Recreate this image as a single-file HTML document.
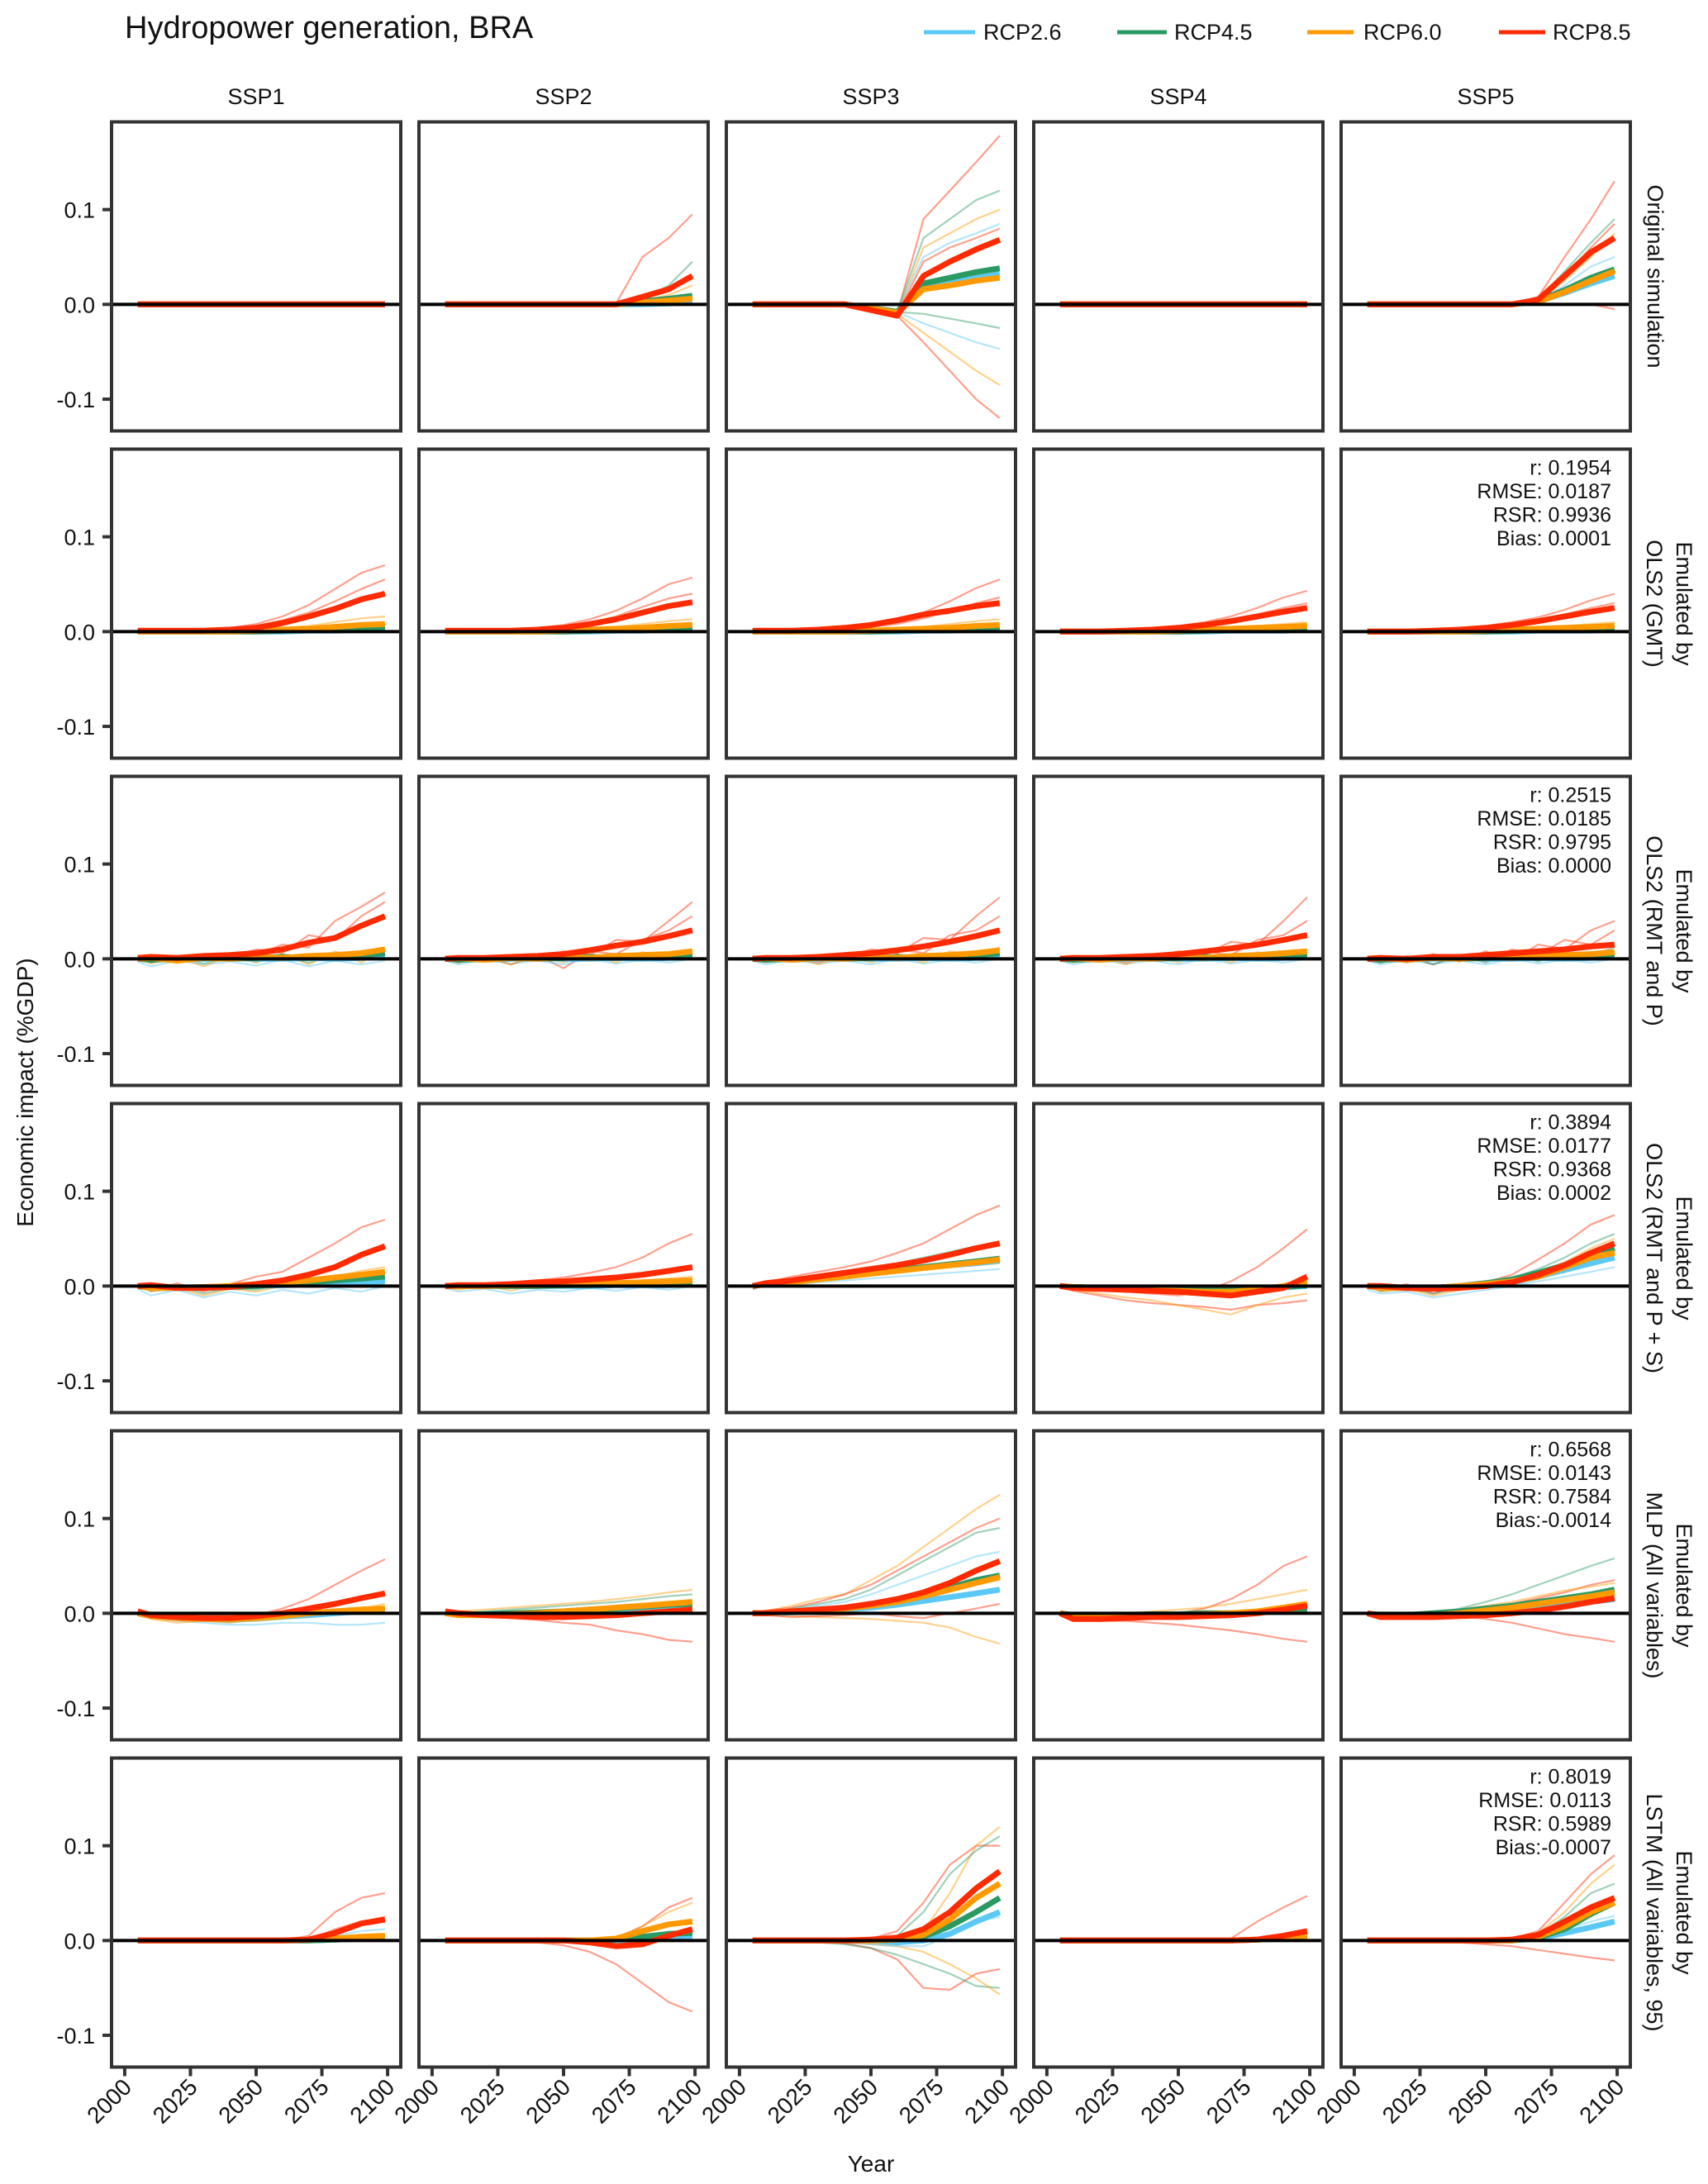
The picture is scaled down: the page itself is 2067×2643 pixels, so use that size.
<!DOCTYPE html>
<html><head><meta charset="utf-8"><style>
body{margin:0;background:#fff}
svg{display:block}
text{font-family:"Liberation Sans",Arial,sans-serif;fill:#111}
</style></head><body>
<svg id="chart" width="2067" height="2643" viewBox="0 0 2067 2643" xmlns="http://www.w3.org/2000/svg">
<text x="151" y="46" font-size="38">Hydropower generation, BRA</text>
<g font-size="27">
 <g><line x1="1118" y1="39" x2="1180" y2="39" stroke="#5bc8f5" stroke-width="5"/><text x="1190" y="48">RCP2.6</text></g>
 <g><line x1="1352" y1="39" x2="1412" y2="39" stroke="#2a9a63" stroke-width="5"/><text x="1421" y="48">RCP4.5</text></g>
 <g><line x1="1582" y1="39" x2="1638" y2="39" stroke="#ff9900" stroke-width="5"/><text x="1650" y="48">RCP6.0</text></g>
 <g><line x1="1814" y1="39" x2="1870" y2="39" stroke="#ff2a00" stroke-width="5"/><text x="1879" y="48">RCP8.5</text></g>
</g>
<text transform="translate(40,1322) rotate(-90)" text-anchor="middle" font-size="28">Economic impact (%GDP)</text>
<text x="1054" y="2628" text-anchor="middle" font-size="28">Year</text>
<g id="panels"></g>
</svg>
<script>
const years = [2005,2010,2020,2030,2040,2050,2060,2070,2080,2090,2099];
const rcpNames = ["RCP2.6","RCP4.5","RCP6.0","RCP8.5"];
const colLabels = ["SSP1","SSP2","SSP3","SSP4","SSP5"];
const rowLabels = [["Original simulation"],["Emulated by","OLS2 (GMT)"],["Emulated by","OLS2 (RMT and P)"],["Emulated by","OLS2 (RMT and P + S)"],["Emulated by","MLP (All variables)"],["Emulated by","LSTM (All variables, 95)"]];
const yTicks = [-0.1,0,0.1];
const yTickLabels = ["-0.1","0.0","0.1"];
const xTicks = [2000,2025,2050,2075,2100];
const statR = ["0.1954","0.2515","0.3894","0.6568","0.8019"];
const statRMSE = ["0.0187","0.0185","0.0177","0.0143","0.0113"];
const statRSR = ["0.9936","0.9795","0.9368","0.7584","0.5989"];
const statBias = [" 0.0001"," 0.0000"," 0.0002","-0.0014","-0.0007"];

const Z=[0,0,0,0,0,0,0,0,0,0,0];
const mean00=[Z,Z,Z,Z];
const mean01=[[0,0,0,0,0,0,0,0,0,0.001,0.002],[0,0,0,0,0,0,0,0,0.003,0.006,0.009],[0,0,0,0,0,0,0,0,0.002,0.004,0.006],[0,0,0,0,0,0,0,0,0.008,0.016,0.03]];
const mean02=[[0,0,0,0,0,-0.004,-0.008,0.02,0.024,0.028,0.032],[0,0,0,0,0,-0.004,-0.008,0.022,0.028,0.034,0.038],[0,0,0,0,0,-0.004,-0.009,0.016,0.02,0.025,0.028],[0,0,0,0,0,-0.006,-0.012,0.03,0.045,0.058,0.068]];
const mean03=[Z,Z,Z,Z];
const mean04=[[0,0,0,0,0,0,0,0.003,0.012,0.022,0.03],[0,0,0,0,0,0,0,0.004,0.015,0.028,0.037],[0,0,0,0,0,0,0,0.003,0.013,0.025,0.035],[0,0,0,0,0,0,0,0.005,0.03,0.055,0.07]];
const mean10=[[0,0,0,0,0,0,0,0.001,0.001,0.002,0.002],[0,0,0,0,0,0,0.001,0.002,0.003,0.004,0.005],[0,0,0,0,0,0.001,0.002,0.003,0.005,0.007,0.008],[0.001,0.001,0.001,0.001,0.002,0.004,0.009,0.016,0.024,0.034,0.04]];
const mean11=[[0,0,0,0,0,0,0,0.001,0.001,0.002,0.002],[0,0,0,0,0,0,0.001,0.002,0.003,0.004,0.005],[0,0,0,0,0,0.001,0.002,0.003,0.004,0.006,0.007],[0.001,0.001,0.001,0.001,0.002,0.004,0.008,0.013,0.02,0.027,0.031]];
const mean12=[[0,0,0,0,0,0,0,0.001,0.001,0.002,0.002],[0,0,0,0,0,0,0.001,0.002,0.003,0.004,0.005],[0,0,0,0,0,0.001,0.002,0.003,0.004,0.006,0.007],[0.001,0.001,0.001,0.002,0.004,0.007,0.012,0.018,0.022,0.027,0.03]];
const mean13=[[0,0,0,0,0,0,0,0.001,0.001,0.001,0.002],[0,0,0,0,0,0,0.001,0.002,0.002,0.003,0.004],[0,0,0,0,0,0.001,0.002,0.003,0.004,0.005,0.006],[0,0,0,0.001,0.002,0.004,0.007,0.011,0.016,0.021,0.025]];
const mean14=[[0,0,0,0,0,0,0,0.001,0.001,0.001,0.002],[0,0,0,0,0,0,0.001,0.002,0.002,0.003,0.004],[0,0,0,0,0,0.001,0.002,0.003,0.004,0.005,0.006],[0,0,0,0.001,0.002,0.004,0.007,0.011,0.016,0.021,0.025]];
const mean20=[[0,0,-0.001,0,0.001,0,0,0.001,0,0.001,0.002],[0,-0.001,0,0.001,0,0.001,0.002,0.001,0.003,0.004,0.006],[0,0.001,-0.002,0.001,0,0.002,0.001,0.003,0.004,0.006,0.01],[0.001,0.002,0.001,0.003,0.004,0.006,0.01,0.017,0.022,0.035,0.045]];
const mean21=[[0,0,-0.001,0,0.001,0,0,0.001,0,0.001,0.002],[0,-0.001,0,0.001,0,0.001,0.002,0.001,0.003,0.004,0.005],[0,0.001,-0.001,0.001,0,0.002,0.001,0.003,0.004,0.005,0.008],[0,0.001,0.001,0.002,0.003,0.005,0.009,0.014,0.018,0.024,0.03]];
const mean22=[[0,0,-0.001,0,0.001,0,0,0.001,0,0.001,0.002],[0,-0.001,0,0.001,0,0.001,0.002,0.001,0.003,0.004,0.006],[0,0.001,-0.001,0.001,0,0.002,0.001,0.003,0.004,0.006,0.009],[0,0.001,0.001,0.002,0.004,0.006,0.009,0.013,0.018,0.024,0.03]];
const mean23=[[0,0,-0.001,0,0.001,0,0,0.001,0,0.001,0.002],[0,-0.001,0,0.001,0,0.001,0.002,0.001,0.003,0.004,0.005],[0,0.001,-0.001,0.001,0,0.002,0.001,0.003,0.004,0.006,0.008],[0,0.001,0.001,0.002,0.003,0.005,0.008,0.011,0.015,0.02,0.025]];
const mean24=[[0,0,-0.001,0,0.001,0,0,0.001,0,0.001,0.002],[0,-0.001,0,0.001,0,0.001,0.002,0.001,0.003,0.004,0.005],[0,0.001,-0.001,0.001,0,0.002,0.001,0.003,0.004,0.005,0.007],[0,0.001,0,0.002,0.002,0.004,0.006,0.008,0.01,0.013,0.015]];
const mean30=[[0,-0.002,-0.002,-0.001,-0.001,0,0.001,0.002,0.003,0.004,0.005],[0,-0.002,-0.002,-0.002,-0.001,0,0.002,0.004,0.006,0.008,0.01],[0,-0.002,-0.002,-0.001,0,0.002,0.004,0.006,0.009,0.012,0.015],[0,0.001,-0.002,-0.002,-0.001,0.002,0.006,0.012,0.02,0.033,0.042]];
const mean31=[[0,0,0,0,0,0,0,0.001,0.001,0.001,0.002],[0,0,0,0,0,0.001,0.001,0.002,0.002,0.003,0.004],[0,0,0,0.001,0.001,0.002,0.002,0.003,0.004,0.005,0.006],[0,0.001,0.001,0.002,0.004,0.005,0.007,0.009,0.012,0.016,0.02]];
const mean32=[[0,0.002,0.005,0.008,0.011,0.014,0.017,0.02,0.022,0.024,0.027],[0,0.002,0.005,0.008,0.011,0.014,0.017,0.02,0.023,0.026,0.029],[0,0.002,0.004,0.007,0.01,0.013,0.016,0.019,0.022,0.025,0.028],[0,0.003,0.006,0.01,0.014,0.018,0.022,0.027,0.033,0.04,0.045]];
const mean33=[[0,-0.001,-0.002,-0.002,-0.003,-0.003,-0.003,-0.003,-0.002,-0.001,0],[0,-0.001,-0.002,-0.003,-0.003,-0.004,-0.004,-0.004,-0.003,-0.001,0.001],[0,-0.001,-0.002,-0.003,-0.004,-0.005,-0.006,-0.006,-0.004,0,0.005],[0,-0.002,-0.003,-0.004,-0.005,-0.006,-0.008,-0.01,-0.006,-0.002,0.01]];
const mean34=[[0,-0.002,-0.002,-0.002,-0.001,0.001,0.004,0.01,0.017,0.024,0.03],[0,-0.002,-0.002,-0.002,0,0.003,0.007,0.014,0.022,0.032,0.04],[0,-0.002,-0.002,-0.002,0,0.002,0.005,0.01,0.02,0.03,0.035],[0,0,-0.002,-0.003,-0.002,0,0.004,0.012,0.022,0.035,0.045]];
const mean40=[[0,-0.003,-0.004,-0.005,-0.005,-0.004,-0.003,-0.002,0,0.002,0.003],[0,-0.003,-0.004,-0.005,-0.005,-0.004,-0.002,0,0.002,0.003,0.004],[0,-0.003,-0.005,-0.006,-0.006,-0.005,-0.003,0,0.002,0.004,0.005],[0.002,-0.002,-0.004,-0.005,-0.005,-0.003,0,0.005,0.01,0.016,0.021]];
const mean41=[[0,-0.001,-0.001,-0.001,0,0.001,0.002,0.003,0.004,0.004,0.005],[0,-0.001,-0.001,0,0.001,0.002,0.004,0.005,0.007,0.009,0.01],[0,-0.002,-0.002,-0.001,0,0.002,0.004,0.006,0.008,0.01,0.012],[0.002,0,-0.002,-0.003,-0.004,-0.004,-0.003,-0.002,0,0.002,0.004]];
const mean42=[[0,0,0.001,0.002,0.004,0.006,0.009,0.013,0.017,0.021,0.025],[0,0,0.002,0.003,0.005,0.009,0.014,0.02,0.027,0.035,0.04],[0,0,0.002,0.003,0.005,0.008,0.012,0.018,0.025,0.032,0.038],[0,0,0.002,0.004,0.006,0.01,0.015,0.022,0.032,0.045,0.055]];
const mean43=[[0,-0.002,-0.002,-0.002,-0.002,-0.001,-0.001,0,0.001,0.002,0.002],[0,-0.002,-0.002,-0.002,-0.001,-0.001,0,0,0.001,0.002,0.003],[0,-0.003,-0.003,-0.002,-0.002,-0.002,-0.001,0,0.002,0.006,0.01],[0,-0.006,-0.006,-0.005,-0.004,-0.004,-0.003,-0.002,0,0.004,0.008]];
const mean44=[[0,-0.002,-0.002,-0.001,0,0.002,0.004,0.006,0.009,0.012,0.015],[0,-0.002,-0.002,0,0.002,0.005,0.008,0.012,0.016,0.02,0.025],[0,-0.003,-0.003,-0.002,0,0.003,0.006,0.01,0.014,0.018,0.022],[0,-0.004,-0.004,-0.004,-0.003,-0.002,0,0.003,0.007,0.012,0.016]];
const mean50=[[0,0,0,0,0,0,0,0,0.001,0.002,0.003],[0,0,0,0,0,0,0,0,0.001,0.002,0.002],[0,0,0,0,0,0,0,0.001,0.002,0.004,0.005],[0,0,0,0,0,0,0,0.001,0.008,0.018,0.022]];
const mean51=[[0,0,0,0,0,0,0,0,0.002,0.004,0.005],[0,0,0,0,0,0,0,0.001,0.004,0.007,0.008],[0,0,0,0,0,0,0,0.002,0.01,0.017,0.02],[0,0,0,0,0,0,-0.002,-0.006,-0.004,0.005,0.012]];
const mean52=[[0,0,0,0,0,0,-0.002,0,0.007,0.02,0.03],[0,0,0,0,0,0,0.001,0.004,0.015,0.03,0.045],[0,0,0,0,0,0,0.001,0.006,0.022,0.045,0.06],[0,0,0,0,0,0.001,0.003,0.012,0.03,0.055,0.073]];
const mean53=[[0,0,0,0,0,0,0,0,0.001,0.002,0.002],[0,0,0,0,0,0,0,0,0.001,0.002,0.002],[0,0,0,0,0,0,0,0,0.001,0.002,0.003],[0,0,0,0,0,0,0,0,0.001,0.005,0.01]];
const mean54=[[0,0,0,0,0,0,0,0.002,0.008,0.014,0.02],[0,0,0,0,0,0,0,0.003,0.012,0.028,0.04],[0,0,0,0,0,0,0,0.004,0.015,0.03,0.04],[0,0,0,0,0,0,0.001,0.006,0.02,0.035,0.045]];

const thin00=[];
const thin01=[[3,0,0,0,0,0,0,0,0.001,0.05,0.07,0.095],[1,0,0,0,0,0,0,0,0,0.005,0.02,0.045],[2,0,0,0,0,0,0,0,0,0.004,0.01,0.02]];
const thin02=[[3,0,0,0,0,0,-0.003,-0.01,0.09,0.12,0.15,0.178],[1,0,0,0,0,0,-0.003,-0.008,0.07,0.09,0.11,0.12],[2,0,0,0,0,0,-0.004,-0.01,0.06,0.075,0.09,0.1],[0,0,0,0,0,0,-0.002,-0.006,0.05,0.065,0.075,0.085],[3,0,0,0,0,0,-0.003,-0.01,0.045,0.06,0.07,0.08],[2,0,0,0,0,0,-0.004,-0.01,-0.03,-0.05,-0.07,-0.085],[3,0,0,0,0,0,-0.004,-0.012,-0.04,-0.07,-0.1,-0.12],[0,0,0,0,0,0,-0.002,-0.008,-0.02,-0.03,-0.04,-0.047],[1,0,0,0,0,0,-0.003,-0.008,-0.01,-0.015,-0.02,-0.025]];
const thin03=[];
const thin04=[[3,0,0,0,0,0,0,0,0.008,0.05,0.09,0.13,0.137],[1,0,0,0,0,0,0,0,0.005,0.035,0.065,0.09,0.095],[3,0,0,0,0,0,0,0,0.005,0.03,0.06,0.085,0.09],[2,0,0,0,0,0,0,0,0.003,0.025,0.05,0.075,0.08],[0,0,0,0,0,0,0,0,0.003,0.02,0.04,0.05,0.052],[3,0,0,0,0,0,0,0,0,0,0,-0.005,-0.012]];
const thin10=[[3,0.001,0.001,0.001,0.002,0.004,0.008,0.016,0.028,0.045,0.062,0.07],[3,0.001,0.001,0.001,0.002,0.003,0.006,0.012,0.02,0.032,0.045,0.055],[2,0,0,0,0,0.001,0.002,0.004,0.006,0.01,0.014,0.016]];
const thin11=[[3,0.001,0.001,0.001,0.002,0.004,0.007,0.013,0.022,0.035,0.05,0.057],[3,0.001,0.001,0.001,0.002,0.003,0.005,0.009,0.016,0.026,0.035,0.04],[2,0,0,0,0,0.001,0.002,0.003,0.005,0.008,0.011,0.013]];
const thin12=[[3,0.001,0.001,0.001,0.002,0.004,0.007,0.012,0.02,0.032,0.046,0.055],[3,0.001,0.001,0.001,0.002,0.003,0.005,0.008,0.014,0.022,0.03,0.036],[2,0,0,0,0,0.001,0.002,0.003,0.005,0.008,0.011,0.013]];
const thin13=[[3,0,0,0.001,0.002,0.003,0.006,0.01,0.016,0.025,0.036,0.043],[3,0,0,0.001,0.001,0.003,0.005,0.008,0.012,0.018,0.025,0.03],[2,0,0,0,0,0.001,0.002,0.003,0.004,0.006,0.008,0.01]];
const thin14=[[3,0,0,0.001,0.002,0.003,0.006,0.01,0.015,0.023,0.033,0.04],[3,0,0,0.001,0.001,0.003,0.005,0.008,0.012,0.018,0.025,0.03],[2,0,0,0,0,0.001,0.002,0.003,0.004,0.006,0.008,0.01]];
const thin20=[[3,0.002,0,0.003,0.001,0.006,0.004,0.015,0.012,0.04,0.055,0.07],[3,0,0.003,0,0.005,0.002,0.01,0.006,0.025,0.02,0.045,0.06],[0,-0.003,-0.008,-0.002,-0.006,-0.003,-0.007,-0.001,-0.008,-0.002,-0.006,-0.002],[2,0,-0.005,0.002,-0.008,0.003,-0.004,0.005,-0.006,0.008,-0.004,0.012],[1,0.001,-0.004,0.002,-0.005,0.002,-0.003,0.003,-0.004,0.004,0.001,0.006]];
const thin21=[[3,0,0.002,-0.002,0.004,0.001,0.008,0.004,0.02,0.018,0.04,0.06],[3,0,-0.004,0.002,-0.006,0.004,-0.01,0.008,0.005,0.02,0.03,0.045],[0,-0.002,-0.006,-0.001,-0.005,-0.002,-0.006,0,-0.005,-0.001,-0.004,0],[2,0,-0.004,0.002,-0.006,0.003,-0.004,0.005,-0.004,0.007,0.002,0.01]];
const thin22=[[3,0,0.002,-0.001,0.004,0.002,0.01,0.006,0.022,0.02,0.045,0.065],[3,0,-0.003,0.002,-0.004,0.004,0.001,0.01,0.006,0.025,0.03,0.045],[0,-0.002,-0.006,-0.001,-0.005,-0.002,-0.006,0,-0.005,-0.001,-0.004,0],[2,0,-0.004,0.002,-0.006,0.003,-0.004,0.005,-0.004,0.008,0.004,0.012]];
const thin23=[[3,0,0.002,-0.001,0.003,0.002,0.008,0.005,0.018,0.015,0.04,0.065],[3,0,-0.003,0.002,-0.004,0.003,0.002,0.008,0.004,0.02,0.025,0.04],[0,-0.002,-0.006,-0.001,-0.005,-0.002,-0.006,0,-0.005,-0.001,-0.004,0],[2,0,-0.004,0.002,-0.006,0.003,-0.004,0.005,-0.004,0.007,0.003,0.01]];
const thin24=[[3,0,0.003,-0.004,0.005,-0.003,0.008,-0.002,0.015,0.01,0.03,0.04],[3,0,-0.004,0.003,-0.006,0.004,-0.003,0.01,0.004,0.02,0.015,0.03],[0,-0.002,-0.006,-0.001,-0.005,-0.002,-0.006,0,-0.005,-0.001,-0.004,0],[1,0,-0.004,0.002,-0.006,0.003,-0.004,0.005,-0.003,0.008,0.004,0.012]];
const thin30=[[3,0.002,-0.004,0.003,-0.006,0.002,0.01,0.015,0.03,0.045,0.062,0.07],[0,-0.003,-0.01,-0.004,-0.012,-0.006,-0.01,-0.004,-0.008,-0.002,-0.006,0],[2,0,-0.006,-0.002,-0.01,-0.003,-0.006,0,0.004,0.01,0.016,0.02],[1,0,-0.005,0,-0.008,-0.002,-0.004,0.002,0.004,0.008,0.012,0.016]];
const thin31=[[3,0.001,0.002,0.002,0.004,0.006,0.009,0.014,0.02,0.03,0.045,0.055],[0,-0.002,-0.006,-0.003,-0.008,-0.004,-0.006,-0.002,-0.005,-0.001,-0.004,0],[2,0,-0.004,0.001,-0.005,0.002,-0.002,0.004,0.002,0.006,0.008,0.01]];
const thin32=[[3,0.002,0.004,0.01,0.015,0.02,0.026,0.035,0.045,0.06,0.075,0.085],[0,-0.004,0.002,0.001,0.004,0.006,0.008,0.01,0.012,0.014,0.016,0.018],[1,0.002,0.004,0.008,0.012,0.016,0.02,0.024,0.03,0.036,0.042,0.045],[2,0,0.001,0.004,0.006,0.009,0.012,0.015,0.018,0.02,0.022,0.024]];
const thin33=[[3,0,0,-0.004,-0.006,-0.008,-0.01,-0.005,0.005,0.02,0.04,0.06],[3,0,-0.005,-0.01,-0.015,-0.018,-0.02,-0.022,-0.025,-0.02,-0.018,-0.015],[2,0,-0.004,-0.008,-0.012,-0.015,-0.02,-0.025,-0.03,-0.02,-0.012,-0.008],[0,0,-0.003,-0.004,-0.006,-0.006,-0.008,-0.01,-0.008,-0.006,-0.004,-0.002]];
const thin34=[[3,0.002,-0.004,0.002,-0.008,0,0.004,0.012,0.028,0.045,0.065,0.075],[0,-0.004,-0.008,-0.006,-0.012,-0.008,-0.004,0,0.005,0.01,0.015,0.02],[2,0,-0.006,-0.003,-0.01,-0.004,0,0.006,0.015,0.025,0.04,0.05],[1,0,-0.005,-0.002,-0.008,-0.002,0.002,0.008,0.018,0.03,0.045,0.055]];
const thin40=[[3,0.004,0,-0.004,-0.006,-0.005,-0.002,0.005,0.015,0.03,0.045,0.057],[0,0,-0.005,-0.008,-0.01,-0.012,-0.012,-0.01,-0.01,-0.012,-0.012,-0.01],[2,0.002,-0.006,-0.01,-0.008,-0.01,-0.006,-0.004,-0.002,0.002,0.005,0.01],[1,0.002,-0.004,-0.007,-0.008,-0.009,-0.008,-0.006,-0.004,0,0.004,0.006]];
const thin41=[[3,0.002,-0.002,-0.003,-0.005,-0.007,-0.01,-0.012,-0.018,-0.022,-0.028,-0.03],[2,0,0.002,0.004,0.006,0.008,0.01,0.012,0.015,0.018,0.022,0.025],[1,0,0,0.002,0.004,0.006,0.008,0.01,0.012,0.015,0.018,0.02],[0,0,-0.004,-0.004,-0.003,-0.002,0,0.002,0.003,0.004,0.006,0.008]];
const thin42=[[2,0,0.002,0.008,0.015,0.02,0.035,0.05,0.07,0.09,0.11,0.125],[3,0,0.003,0.006,0.012,0.02,0.03,0.045,0.06,0.075,0.09,0.1],[1,0,0,0.005,0.01,0.015,0.025,0.04,0.055,0.07,0.085,0.09],[0,0,0.002,0.004,0.008,0.012,0.02,0.03,0.04,0.05,0.06,0.065],[2,0,-0.002,-0.003,-0.004,-0.005,-0.006,-0.008,-0.01,-0.015,-0.025,-0.032],[3,0,-0.002,-0.004,-0.003,-0.002,0,-0.003,-0.005,0,0.005,0.01]];
const thin43=[[3,0,-0.004,-0.005,-0.004,-0.003,0,0.005,0.015,0.03,0.05,0.06],[3,0,-0.006,-0.008,-0.008,-0.01,-0.012,-0.015,-0.018,-0.022,-0.027,-0.03],[2,0,-0.002,-0.002,0,0.002,0.004,0.006,0.01,0.015,0.02,0.025]];
const thin44=[[1,0,-0.004,-0.004,-0.002,0.005,0.012,0.02,0.03,0.04,0.05,0.058],[3,0,-0.005,-0.005,-0.004,-0.003,-0.006,-0.01,-0.016,-0.022,-0.026,-0.03],[3,0,-0.003,-0.002,0,0.003,0.006,0.01,0.016,0.022,0.03,0.035],[2,0,-0.003,-0.002,0,0.004,0.008,0.012,0.018,0.024,0.028,0.032]];
const thin50=[[3,0,0,0,0,0,0,0,0.005,0.03,0.045,0.05],[3,0,0,0,0,0,0,0,0,0.012,0.02,0.025],[0,0,0,0,0,0,0,0,0,0.005,0.01,0.012]];
const thin51=[[3,0,0,0,-0.001,-0.002,-0.005,-0.012,-0.025,-0.045,-0.065,-0.075],[3,0,0,0,0,0,0,0,0.002,0.015,0.035,0.045],[2,0,0,0,0,0,0,0,0.003,0.015,0.03,0.04],[0,0,0,0,0,0,0,0,-0.002,0,0.004,0.008]];
const thin52=[[3,0,0,0,0,0,0.002,0.01,0.04,0.08,0.1,0.1],[2,0,0,0,0,0,0,0.002,0.01,0.05,0.1,0.12],[1,0,0,0,0,0,0,0.005,0.03,0.07,0.095,0.11],[3,0,0,0,-0.001,-0.003,-0.008,-0.02,-0.05,-0.052,-0.035,-0.03],[1,0,0,0,-0.002,-0.004,-0.008,-0.015,-0.025,-0.035,-0.048,-0.05],[2,0,0,0,0,-0.002,-0.004,-0.006,-0.012,-0.025,-0.04,-0.057],[0,0,0,0,0,-0.002,-0.004,-0.006,-0.006,0.005,0.02,0.025]];
const thin53=[[3,0,0,0,0,0,0,0,0.002,0.02,0.035,0.047],[2,0,0,0,0,0,0,0,0,0.002,0.004,0.006]];
const thin54=[[3,0,0,0,0,0,0,0.002,0.01,0.04,0.07,0.09],[2,0,0,0,0,0,0,0.001,0.008,0.03,0.06,0.08],[1,0,0,0,0,0,0,0.001,0.006,0.025,0.05,0.06],[3,0,0,0,-0.001,-0.002,-0.004,-0.006,-0.01,-0.014,-0.018,-0.021],[0,0,0,0,0,0,0,0,0.004,0.012,0.02,0.026]];

const means=[[mean00,mean01,mean02,mean03,mean04],[mean10,mean11,mean12,mean13,mean14],[mean20,mean21,mean22,mean23,mean24],[mean30,mean31,mean32,mean33,mean34],[mean40,mean41,mean42,mean43,mean44],[mean50,mean51,mean52,mean53,mean54]];
const thins=[[thin00,thin01,thin02,thin03,thin04],[thin10,thin11,thin12,thin13,thin14],[thin20,thin21,thin22,thin23,thin24],[thin30,thin31,thin32,thin33,thin34],[thin40,thin41,thin42,thin43,thin44],[thin50,thin51,thin52,thin53,thin54]];

const colors=["#5bc8f5","#2a9a63","#ff9900","#ff2a00"];
const NS="http://www.w3.org/2000/svg";
const L0=135,PW=350,PX=372,T0=147.5,PH=374,PY=396;
const Y0=1995,Y1=2105,V0=-0.1335,V1=0.1925;
function xs(c,yr){return L0+c*PX+(yr-Y0)/(Y1-Y0)*PW;}
function ys(r,v){return T0+r*PY+(V1-v)/(V1-V0)*PH;}
function mk(tag,attrs,parent){const e=document.createElementNS(NS,tag);for(const k in attrs)e.setAttribute(k,attrs[k]);parent.appendChild(e);return e;}
const root=document.getElementById('panels');
const defs=mk('defs',{},root);
function pathD(r,c,vals){return vals.map((v,i)=>(i?'L':'M')+xs(c,years[i]).toFixed(1)+','+ys(r,v).toFixed(1)).join('');}

colLabels.forEach((lab,c)=>{
  const t=mk('text',{x:L0+c*PX+PW/2,y:126,'text-anchor':'middle','font-size':'27'},root);
  
  
  t.textContent=lab;
});
rowLabels.forEach((lines,r)=>{
  const cy=T0+r*PY+PH/2;
  const g=mk('g',{},root);
  
  
  const xsPos=lines.length===1?[2003]:[2038,2002];
  lines.forEach((ln,i)=>{
    const t=mk('text',{transform:`translate(${xsPos[i]},${cy}) rotate(90)`,'text-anchor':'middle','dominant-baseline':'central','font-size':'27'},g);
    t.textContent=ln;
  });
});

for(let r=0;r<6;r++){for(let c=0;c<5;c++){
  const px=L0+c*PX,py=T0+r*PY;
  const cp=mk('clipPath',{id:`cp${r}${c}`},defs);
  mk('rect',{x:px,y:py,width:PW,height:PH},cp);
  const g=mk('g',{},root);
  
  
  const pg=mk('g',{'clip-path':`url(#cp${r}${c})`},g);
  thins[r][c].forEach((s,k)=>{
    const p=mk('path',{d:pathD(r,c,s.slice(1)),fill:'none',stroke:colors[s[0]],'stroke-width':'2.2','stroke-opacity':'0.45','stroke-linejoin':'round'},pg);
    
    
  });
  means[r][c].forEach((s,k)=>{
    const p=mk('path',{d:pathD(r,c,s),fill:'none',stroke:colors[k],'stroke-width':'7','stroke-linejoin':'round','stroke-linecap':'butt'},pg);
    
    
  });
  const zl=mk('line',{x1:px,x2:px+PW,y1:ys(r,0),y2:ys(r,0),stroke:'#000','stroke-width':'4'},g);
  
  
  const fr=mk('rect',{x:px,y:py,width:PW,height:PH,fill:'none',stroke:'#333','stroke-width':'4'},g);
  
  
  if(c===0){
    yTicks.forEach((v,i)=>{
      mk('line',{x1:px-11,x2:px,y1:ys(r,v),y2:ys(r,v),stroke:'#333','stroke-width':'4'},g);
      const t=mk('text',{x:px-20,y:ys(r,v)+10,'text-anchor':'end','font-size':'27',fill:'#333'},g);
      
      
      t.textContent=yTickLabels[i];
    });
  }
  if(r===5){
    xTicks.forEach(yr=>{
      const x=xs(c,yr),yb=py+PH;
      mk('line',{x1:x,x2:x,y1:yb,y2:yb+11,stroke:'#333','stroke-width':'4'},g);
      const t=mk('text',{transform:`translate(${x+10},${yb+26}) rotate(-45)`,'text-anchor':'end','font-size':'28',fill:'#333'},g);
      
      
      t.textContent=yr;
    });
  }
  if(c===4&&r>0){
    const st=mk('g',{'font-size':'25','text-anchor':'end'},g);
    
    
    const lines=['r: '+statR[r-1],'RMSE: '+statRMSE[r-1],'RSR: '+statRSR[r-1],'Bias:'+statBias[r-1]];
    lines.forEach((ln,i)=>{const t=mk('text',{x:px+327,y:py+31+i*28.5},st);t.textContent=ln;});
  }
}}
</script>
</body></html>
